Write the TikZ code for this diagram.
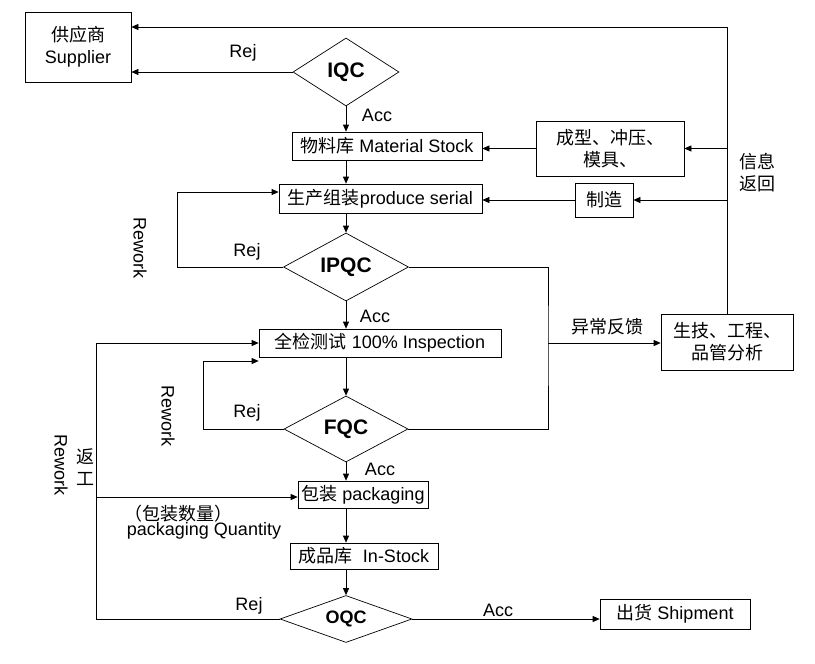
\documentclass[tikz,border=0pt]{standalone}
\usepackage{fontspec}
\setmainfont{Liberation Sans}
\newfontfamily\zhfont{Noto Sans CJK SC}
\newcommand{\zh}[1]{{\zhfont #1}}
\usetikzlibrary{shapes.geometric,arrows.meta}

\begin{document}
\begin{tikzpicture}[x=1pt,y=-1pt,line width=0.7pt,
    font=\fontsize{18}{22}\selectfont,
    box/.style={draw,inner sep=0pt,align=center},
    qc/.style={draw,diamond,aspect=2,inner sep=0pt,font=\fontsize{21}{24}\selectfont\bfseries},
    arr/.style={-{Triangle[length=7pt,width=6pt]}}]
    \useasboundingbox (0,0) rectangle (815,664);
    %\draw[very thin,color=gray] (0,0) grid[step=50] (815,664);
    \node[box,minimum width=106pt,minimum height=70pt] (sup) at (78,47) {\zh{供应商}\\Supplier};
    \node[qc,minimum width=106pt,minimum height=68pt] (iqc) at (346,72) {IQC};
    \node[box,minimum width=190pt,minimum height=28pt] (stock) at (387,146) {\zh{物料库} Material Stock};
    \node[box,minimum width=203pt,minimum height=29pt] (prod) at (380.5,198.5) {\zh{生产组装}produce serial};
    \node[box,minimum width=148pt,minimum height=55pt] (mold) at (610,148.5) {\zh{成型、冲压、}\\\zh{模具、}};
    \node[box,minimum width=58pt,minimum height=34pt] (mfg) at (604,200) {\zh{制造}};
    \node[qc,minimum width=125pt,minimum height=68pt] (ipqc) at (346,267) {IPQC};
    \node[box,minimum width=132pt,minimum height=56pt] (tech) at (727,342) {\zh{生技、工程、}\\\zh{品管分析}};
    \node[box,minimum width=242pt,minimum height=28pt] (insp) at (380,343) {\zh{全检测试} 100\% Inspection};
    \node[qc,minimum width=124pt,minimum height=66pt] (fqc) at (346,429) {FQC};
    \node[box,minimum width=130pt,minimum height=27pt] (pack) at (363,494.5) {\zh{包装} packaging};
    \node[box,minimum width=148pt,minimum height=26pt] (instock) at (364,556) {\zh{成品库}\ \ In-Stock};
    \node[qc,minimum width=132pt,minimum height=47pt,font=\fontsize{18}{21}\selectfont\bfseries] (oqc) at (346,619) {OQC};
    \node[box,minimum width=150pt,minimum height=30pt] (ship) at (675,614) {\zh{出货} Shipment};

    % labels
    \node (rej1) at (243,53) {Rej};
    \node (acc1) at (377,115) {Acc};
    \node (rej2) at (247,252) {Rej};
    \node (acc2) at (375,316) {Acc};
    \node (rej3) at (247,413) {Rej};
    \node (acc3) at (380,469) {Acc};
    \node (rej4) at (249,606) {Rej};
    \node (acc4) at (498,610) {Acc};
    \node[rotate=-90] (rw1txt) at (140,248) {Rework};
    \node[rotate=-90] (rw2txt) at (168,416) {Rework};
    \node[rotate=-90] (rw3txt) at (61,465) {Rework};
    \node[align=center] (back) at (85,467) {\zh{返}\\\zh{工}};
    \node[align=center] (info) at (757,173) {\zh{信息}\\\zh{返回}};
    \node (abn) at (607,327) {\zh{异常反馈}};
    \node (pqzh) at (178,514) {\zh{（包装数量）}};
    \node (pqen) at (204,531) {packaging Quantity};

    % flow
    \coordinate (top) at (727,27);
    \draw[arr] (tech.north) -- (top) -- (top -| sup.east);
    \draw[arr] (tech.north |- mold.east) -- (mold.east);
    \draw[arr] (tech.north |- mfg.east) -- (mfg.east);
    \draw[arr] (iqc.west) -- (iqc.west -| sup.east);
    \draw[arr] (iqc.south) -- (iqc.south |- stock.north);
    \draw[arr] (iqc.south |- stock.south) -- (iqc.south |- prod.north);
    \draw[arr] (mold.west) -- (mold.west -| stock.east);
    \draw[arr] (mfg.west) -- (mfg.west -| prod.east);
    \draw[arr] (ipqc.north |- prod.south) -- (ipqc.north);
    \coordinate (rw1) at (177,192);
    \draw[arr] (ipqc.west) -| (rw1) -- (rw1 -| prod.west);
    \coordinate (fb) at (548,343);
    \draw (ipqc.east) -| (fb) |- (fqc.east);
    \draw[arr] (fb) -- (fb -| tech.west);
    \draw[arr] (ipqc.south) -- (ipqc.south |- insp.north);
    \draw[arr] (fqc.north |- insp.south) -- (fqc.north);
    \coordinate (rw2) at (203,361);
    \draw[arr] (fqc.west) -| (rw2) -- (rw2 -| insp.west);
    \draw[arr] (fqc.south) -- (fqc.south |- pack.north);
    \coordinate (rw3) at (96,343);
    \draw[arr] (oqc.west) -| (rw3) -- (insp.west);
    \coordinate (pq) at (96,497);
    \draw[arr] (pq) -- (pq -| pack.west);
    \draw[arr] (oqc.north |- pack.south) -- (oqc.north |- instock.north);
    \draw[arr] (oqc.north |- instock.south) -- (oqc.north);
    \draw[arr] (oqc.east) -- (oqc.east -| ship.west);
\end{tikzpicture}
\end{document}
